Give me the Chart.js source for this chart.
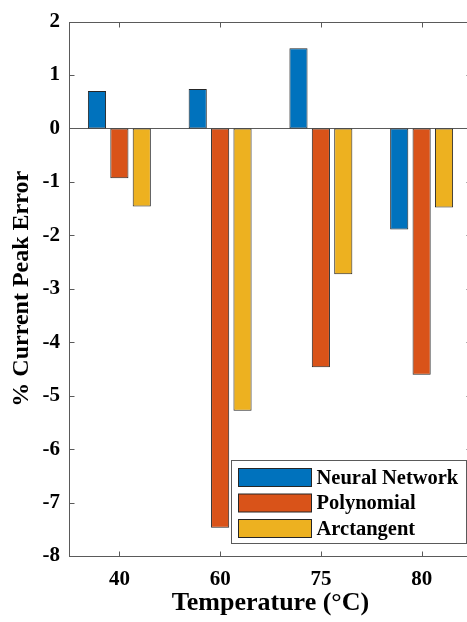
<!DOCTYPE html>
<html>
<head>
<meta charset="utf-8">
<script src="https://cdn.jsdelivr.net/npm/chart.js@4/dist/chart.umd.min.js"></script>
<style>
  html, body { margin: 0; padding: 0; background: #fff; overflow: hidden; }
  #wrap { width: 472px; height: 622px; }
</style>
</head>
<body>
<div id="wrap"><canvas id="errorChart" width="472" height="622"></canvas></div>
<script>
// peak current error per model, by temperature
const temperatures = ["40", "60", "75", "80"];
const neuralNetwork = [0.70, 0.74, 1.50, -1.89];
const polynomial = [-0.93, -7.47, -4.47, -4.61];
const arctangent = [-1.46, -5.28, -2.73, -1.48];
const seriesNames = ["Neural Network", "Polynomial", "Arctangent"];
const seriesColors = ["#0072BD", "#D95319", "#EDB120"];
const yMin = -8;
const yMax = 2;

const serif = "'Liberation Serif', 'Times New Roman', serif";
const axisColor = "#5a5a5a";
const edgeColor = "#262626";

// box around the axes, inward tick marks and the zero baseline
const axesBox = {
  id: "axesBox",
  beforeDatasetsDraw(chart) {
    const { ctx, chartArea: a, scales } = chart;
    const y0 = Math.round(scales.y.getPixelForValue(0)) + 0.5;
    ctx.save();
    ctx.strokeStyle = axisColor;
    ctx.lineWidth = 1;
    ctx.beginPath();
    ctx.moveTo(a.left, y0);
    ctx.lineTo(a.right, y0);
    ctx.stroke();
    ctx.restore();
  },
  afterDatasetsDraw(chart) {
    const { ctx, chartArea: a, scales } = chart;
    const L = Math.round(a.left) + 0.5;
    const R = Math.round(a.right) - 0.5;
    const T = Math.round(a.top) + 0.5;
    const B = Math.round(a.bottom) + 0.5;
    const len = 5;
    ctx.save();
    ctx.strokeStyle = axisColor;
    ctx.lineWidth = 1;
    ctx.strokeRect(L, T, R - L, B - T);
    ctx.beginPath();
    scales.y.ticks.forEach((t) => {
      const py = Math.round(scales.y.getPixelForValue(t.value)) + 0.5;
      ctx.moveTo(L, py);
      ctx.lineTo(L + len, py);
      ctx.moveTo(R, py);
      ctx.lineTo(R - len, py);
    });
    temperatures.forEach((c, i) => {
      const px = Math.round(scales.x.getPixelForValue(i)) + 0.5;
      ctx.moveTo(px, B);
      ctx.lineTo(px, B - len);
      ctx.moveTo(px, T);
      ctx.lineTo(px, T + len);
    });
    ctx.stroke();
    ctx.restore();
  },
  // legend box in the lower right corner of the axes
  afterDraw(chart) {
    const { ctx, chartArea: a } = chart;
    const boxW = 235, boxH = 83;
    const bx = Math.round(a.right - 6 - boxW) + 0.5;
    const by = Math.round(a.bottom - 13 - boxH) + 0.5;
    ctx.save();
    ctx.fillStyle = "#fff";
    ctx.fillRect(bx, by, boxW, boxH);
    ctx.strokeStyle = axisColor;
    ctx.lineWidth = 1;
    ctx.strokeRect(bx, by, boxW, boxH);
    ctx.font = "bold 20.5px " + serif;
    ctx.textBaseline = "middle";
    chart.data.datasets.forEach((ds, i) => {
      const cy = by + 17 + i * 25.5;
      ctx.fillStyle = ds.backgroundColor;
      ctx.fillRect(bx + 7, cy - 9, 73, 18);
      ctx.strokeStyle = edgeColor;
      ctx.strokeRect(bx + 7, cy - 9, 73, 18);
      ctx.fillStyle = "#000";
      ctx.fillText(ds.label, bx + 85, cy + 1);
    });
    ctx.restore();
  },
};

const ctx = document.getElementById("errorChart").getContext("2d");
const chart = new Chart(ctx, {
  type: "bar",
  data: {
    labels: temperatures,
    datasets: [neuralNetwork, polynomial, arctangent].map((values, i) => ({
      label: seriesNames[i],
      data: values,
      backgroundColor: seriesColors[i],
      borderColor: edgeColor,
      borderWidth: 1,
      borderSkipped: false,
      categoryPercentage: 0.667,
      barPercentage: 0.81,
    })),
  },
  options: {
    responsive: false,
    animation: false,
    devicePixelRatio: 1,
    layout: { padding: { top: 17, right: 0, left: 0, bottom: 0 } },
    plugins: {
      legend: { display: false },
      tooltip: { enabled: false },
    },
    scales: {
      x: {
        grid: { display: false, drawTicks: false },
        border: { display: false },
        ticks: {
          color: "#000",
          padding: 11,
          font: { family: serif, size: 21, weight: "bold" },
        },
        title: {
          display: true,
          text: "Temperature (°C)",
          color: "#000",
          font: { family: serif, size: 26, weight: "bold" },
          padding: { top: 0, bottom: 3 },
        },
        afterFit(scale) {
          scale.height = 66;
        },
      },
      y: {
        min: yMin,
        max: yMax,
        grid: { display: false, drawTicks: false },
        border: { display: false },
        ticks: {
          stepSize: 1,
          color: "#000",
          padding: 9,
          font: { family: serif, size: 21, weight: "bold" },
        },
        title: {
          display: true,
          text: "% Current Peak Error",
          color: "#000",
          font: { family: serif, size: 24, weight: "bold" },
          padding: { top: 7, bottom: 0 },
        },
        afterFit(scale) {
          scale.width = 69;
        },
      },
    },
  },
  plugins: [axesBox],
});
</script>
</body>
</html>
